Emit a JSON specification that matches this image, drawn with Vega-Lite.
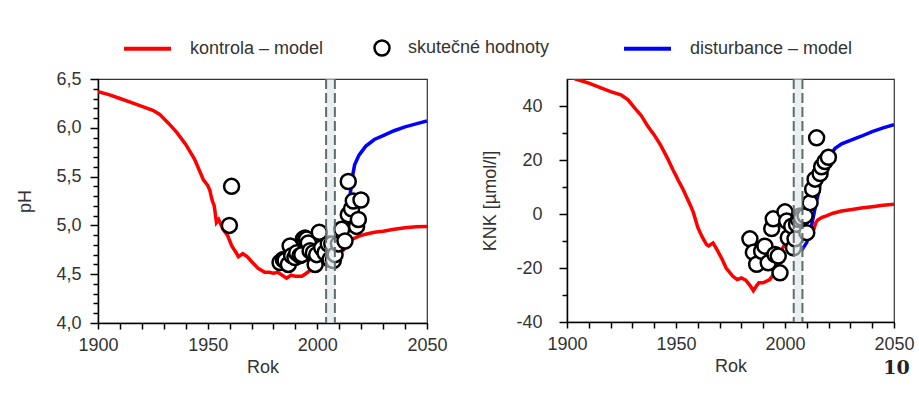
{
  "$schema": "https://vega.github.io/schema/vega-lite/v6.json",
  "background": "white",
  "padding": {"left": 16, "top": 22, "right": 5, "bottom": 5},
  "title": {"text": "10", "orient": "bottom", "anchor": "end", "font": "DejaVu Serif", "fontWeight": "bold", "fontSize": 19, "color": "#222", "offset": -18, "dx": -5},
  "datasets": {
    "ph_model": [
      {"year": 1900, "value": 6.37, "s": "kontrola – model"},
      {"year": 1905, "value": 6.34, "s": "kontrola – model"},
      {"year": 1910, "value": 6.30, "s": "kontrola – model"},
      {"year": 1915, "value": 6.26, "s": "kontrola – model"},
      {"year": 1920, "value": 6.22, "s": "kontrola – model"},
      {"year": 1925, "value": 6.18, "s": "kontrola – model"},
      {"year": 1928, "value": 6.14, "s": "kontrola – model"},
      {"year": 1932, "value": 6.05, "s": "kontrola – model"},
      {"year": 1936, "value": 5.95, "s": "kontrola – model"},
      {"year": 1940, "value": 5.83, "s": "kontrola – model"},
      {"year": 1944, "value": 5.68, "s": "kontrola – model"},
      {"year": 1948, "value": 5.47, "s": "kontrola – model"},
      {"year": 1950, "value": 5.41, "s": "kontrola – model"},
      {"year": 1951, "value": 5.36, "s": "kontrola – model"},
      {"year": 1952, "value": 5.26, "s": "kontrola – model"},
      {"year": 1953, "value": 5.20, "s": "kontrola – model"},
      {"year": 1954, "value": 5.03, "s": "kontrola – model"},
      {"year": 1955, "value": 5.06, "s": "kontrola – model"},
      {"year": 1957, "value": 4.96, "s": "kontrola – model"},
      {"year": 1959, "value": 4.90, "s": "kontrola – model"},
      {"year": 1961, "value": 4.79, "s": "kontrola – model"},
      {"year": 1963, "value": 4.72, "s": "kontrola – model"},
      {"year": 1964, "value": 4.68, "s": "kontrola – model"},
      {"year": 1966, "value": 4.71, "s": "kontrola – model"},
      {"year": 1968, "value": 4.68, "s": "kontrola – model"},
      {"year": 1970, "value": 4.63, "s": "kontrola – model"},
      {"year": 1973, "value": 4.56, "s": "kontrola – model"},
      {"year": 1976, "value": 4.52, "s": "kontrola – model"},
      {"year": 1978, "value": 4.52, "s": "kontrola – model"},
      {"year": 1980, "value": 4.51, "s": "kontrola – model"},
      {"year": 1982, "value": 4.52, "s": "kontrola – model"},
      {"year": 1984, "value": 4.49, "s": "kontrola – model"},
      {"year": 1986, "value": 4.46, "s": "kontrola – model"},
      {"year": 1988, "value": 4.49, "s": "kontrola – model"},
      {"year": 1990, "value": 4.48, "s": "kontrola – model"},
      {"year": 1993, "value": 4.48, "s": "kontrola – model"},
      {"year": 1995, "value": 4.51, "s": "kontrola – model"},
      {"year": 1998, "value": 4.56, "s": "kontrola – model"},
      {"year": 2000, "value": 4.58, "s": "kontrola – model"},
      {"year": 2003, "value": 4.61, "s": "kontrola – model"},
      {"year": 2006, "value": 4.64, "s": "kontrola – model"},
      {"year": 2009, "value": 4.69, "s": "kontrola – model"},
      {"year": 2012, "value": 4.75, "s": "kontrola – model"},
      {"year": 2014, "value": 4.80, "s": "kontrola – model"},
      {"year": 2016, "value": 4.86, "s": "kontrola – model"},
      {"year": 2019, "value": 4.89, "s": "kontrola – model"},
      {"year": 2022, "value": 4.91, "s": "kontrola – model"},
      {"year": 2026, "value": 4.93, "s": "kontrola – model"},
      {"year": 2030, "value": 4.94, "s": "kontrola – model"},
      {"year": 2035, "value": 4.96, "s": "kontrola – model"},
      {"year": 2040, "value": 4.975, "s": "kontrola – model"},
      {"year": 2045, "value": 4.985, "s": "kontrola – model"},
      {"year": 2050, "value": 4.99, "s": "kontrola – model"},
      {"year": 2004, "value": 4.62, "s": "disturbance – model"},
      {"year": 2008, "value": 4.66, "s": "disturbance – model"},
      {"year": 2011, "value": 4.74, "s": "disturbance – model"},
      {"year": 2013, "value": 4.85, "s": "disturbance – model"},
      {"year": 2014, "value": 5.00, "s": "disturbance – model"},
      {"year": 2015, "value": 5.32, "s": "disturbance – model"},
      {"year": 2016, "value": 5.50, "s": "disturbance – model"},
      {"year": 2017, "value": 5.62, "s": "disturbance – model"},
      {"year": 2019, "value": 5.72, "s": "disturbance – model"},
      {"year": 2022, "value": 5.81, "s": "disturbance – model"},
      {"year": 2026, "value": 5.88, "s": "disturbance – model"},
      {"year": 2030, "value": 5.92, "s": "disturbance – model"},
      {"year": 2035, "value": 5.97, "s": "disturbance – model"},
      {"year": 2040, "value": 6.01, "s": "disturbance – model"},
      {"year": 2045, "value": 6.04, "s": "disturbance – model"},
      {"year": 2050, "value": 6.07, "s": "disturbance – model"}
    ],
    "ph_obs": [
      {"year": 1959.9, "value": 5.00, "s": "skutečné hodnoty"},
      {"year": 1960.9, "value": 5.40, "s": "skutečné hodnoty"},
      {"year": 1983.0, "value": 4.62, "s": "skutečné hodnoty"},
      {"year": 1984.5, "value": 4.65, "s": "skutečné hodnoty"},
      {"year": 1985.3, "value": 4.64, "s": "skutečné hodnoty"},
      {"year": 1986.8, "value": 4.60, "s": "skutečné hodnoty"},
      {"year": 1987.6, "value": 4.79, "s": "skutečné hodnoty"},
      {"year": 1988.3, "value": 4.69, "s": "skutečné hodnoty"},
      {"year": 1989.8, "value": 4.67, "s": "skutečné hodnoty"},
      {"year": 1990.6, "value": 4.72, "s": "skutečné hodnoty"},
      {"year": 1992.1, "value": 4.69, "s": "skutečné hodnoty"},
      {"year": 1992.9, "value": 4.70, "s": "skutečné hodnoty"},
      {"year": 1993.6, "value": 4.86, "s": "skutečné hodnoty"},
      {"year": 1994.4, "value": 4.87, "s": "skutečné hodnoty"},
      {"year": 1995.1, "value": 4.86, "s": "skutečné hodnoty"},
      {"year": 1995.9, "value": 4.82, "s": "skutečné hodnoty"},
      {"year": 1996.7, "value": 4.74, "s": "skutečné hodnoty"},
      {"year": 1998.2, "value": 4.72, "s": "skutečné hodnoty"},
      {"year": 1999.0, "value": 4.60, "s": "skutečné hodnoty"},
      {"year": 1999.7, "value": 4.70, "s": "skutečné hodnoty"},
      {"year": 2000.9, "value": 4.93, "s": "skutečné hodnoty"},
      {"year": 2002.0, "value": 4.77, "s": "skutečné hodnoty"},
      {"year": 2003.5, "value": 4.72, "s": "skutečné hodnoty"},
      {"year": 2005.0, "value": 4.81, "s": "skutečné hodnoty"},
      {"year": 2005.8, "value": 4.65, "s": "skutečné hodnoty"},
      {"year": 2006.6, "value": 4.81, "s": "skutečné hodnoty"},
      {"year": 2007.3, "value": 4.64, "s": "skutečné hodnoty"},
      {"year": 2008.1, "value": 4.70, "s": "skutečné hodnoty"},
      {"year": 2009.6, "value": 4.81, "s": "skutečné hodnoty"},
      {"year": 2011.1, "value": 4.96, "s": "skutečné hodnoty"},
      {"year": 2012.6, "value": 4.84, "s": "skutečné hodnoty"},
      {"year": 2014.1, "value": 5.11, "s": "skutečné hodnoty"},
      {"year": 2014.1, "value": 5.45, "s": "skutečné hodnoty"},
      {"year": 2015.6, "value": 5.17, "s": "skutečné hodnoty"},
      {"year": 2016.4, "value": 5.25, "s": "skutečné hodnoty"},
      {"year": 2017.9, "value": 4.99, "s": "skutečné hodnoty"},
      {"year": 2018.7, "value": 5.06, "s": "skutečné hodnoty"},
      {"year": 2019.9, "value": 5.26, "s": "skutečné hodnoty"}
    ],
    "knk_model": [
      {"year": 1900, "value": 51.5, "s": "kontrola – model"},
      {"year": 1904, "value": 50.0, "s": "kontrola – model"},
      {"year": 1910, "value": 48.5, "s": "kontrola – model"},
      {"year": 1915, "value": 46.9, "s": "kontrola – model"},
      {"year": 1920, "value": 45.3, "s": "kontrola – model"},
      {"year": 1925, "value": 44.0, "s": "kontrola – model"},
      {"year": 1928, "value": 42.3, "s": "kontrola – model"},
      {"year": 1931, "value": 39.3, "s": "kontrola – model"},
      {"year": 1934, "value": 36.5, "s": "kontrola – model"},
      {"year": 1937, "value": 32.6, "s": "kontrola – model"},
      {"year": 1940, "value": 29.3, "s": "kontrola – model"},
      {"year": 1943, "value": 25.4, "s": "kontrola – model"},
      {"year": 1946, "value": 20.8, "s": "kontrola – model"},
      {"year": 1948.8, "value": 16.0, "s": "kontrola – model"},
      {"year": 1950, "value": 14.2, "s": "kontrola – model"},
      {"year": 1951, "value": 12.5, "s": "kontrola – model"},
      {"year": 1953, "value": 9.5, "s": "kontrola – model"},
      {"year": 1955, "value": 6.0, "s": "kontrola – model"},
      {"year": 1957, "value": 2.5, "s": "kontrola – model"},
      {"year": 1958, "value": 0.5, "s": "kontrola – model"},
      {"year": 1960, "value": -5.0, "s": "kontrola – model"},
      {"year": 1962, "value": -8.5, "s": "kontrola – model"},
      {"year": 1964, "value": -11.3, "s": "kontrola – model"},
      {"year": 1965, "value": -11.8, "s": "kontrola – model"},
      {"year": 1967, "value": -10.7, "s": "kontrola – model"},
      {"year": 1969, "value": -13.5, "s": "kontrola – model"},
      {"year": 1971, "value": -16.5, "s": "kontrola – model"},
      {"year": 1973, "value": -20.0, "s": "kontrola – model"},
      {"year": 1976, "value": -23.0, "s": "kontrola – model"},
      {"year": 1978, "value": -24.3, "s": "kontrola – model"},
      {"year": 1980, "value": -23.7, "s": "kontrola – model"},
      {"year": 1982, "value": -24.5, "s": "kontrola – model"},
      {"year": 1984, "value": -26.5, "s": "kontrola – model"},
      {"year": 1985.5, "value": -28.4, "s": "kontrola – model"},
      {"year": 1987, "value": -26.5, "s": "kontrola – model"},
      {"year": 1988, "value": -25.5, "s": "kontrola – model"},
      {"year": 1990, "value": -25.5, "s": "kontrola – model"},
      {"year": 1993, "value": -24.3, "s": "kontrola – model"},
      {"year": 1995, "value": -22.0, "s": "kontrola – model"},
      {"year": 1997, "value": -18.0, "s": "kontrola – model"},
      {"year": 1999, "value": -12.5, "s": "kontrola – model"},
      {"year": 2001, "value": -10.0, "s": "kontrola – model"},
      {"year": 2004, "value": -9.0, "s": "kontrola – model"},
      {"year": 2008, "value": -8.5, "s": "kontrola – model"},
      {"year": 2011, "value": -7.5, "s": "kontrola – model"},
      {"year": 2013, "value": -6.3, "s": "kontrola – model"},
      {"year": 2014, "value": -3.5, "s": "kontrola – model"},
      {"year": 2015, "value": -2.2, "s": "kontrola – model"},
      {"year": 2017, "value": -1.2, "s": "kontrola – model"},
      {"year": 2019, "value": -0.7, "s": "kontrola – model"},
      {"year": 2022, "value": 0.3, "s": "kontrola – model"},
      {"year": 2026, "value": 1.1, "s": "kontrola – model"},
      {"year": 2030, "value": 1.6, "s": "kontrola – model"},
      {"year": 2035, "value": 2.2, "s": "kontrola – model"},
      {"year": 2040, "value": 2.7, "s": "kontrola – model"},
      {"year": 2045, "value": 3.2, "s": "kontrola – model"},
      {"year": 2050, "value": 3.6, "s": "kontrola – model"},
      {"year": 2004, "value": -9.0, "s": "disturbance – model"},
      {"year": 2006, "value": -11.0, "s": "disturbance – model"},
      {"year": 2008, "value": -13.0, "s": "disturbance – model"},
      {"year": 2010, "value": -10.5, "s": "disturbance – model"},
      {"year": 2012, "value": -5.0, "s": "disturbance – model"},
      {"year": 2013, "value": -1.0, "s": "disturbance – model"},
      {"year": 2014, "value": 3.0, "s": "disturbance – model"},
      {"year": 2015, "value": 6.5, "s": "disturbance – model"},
      {"year": 2016, "value": 10.5, "s": "disturbance – model"},
      {"year": 2017, "value": 14.5, "s": "disturbance – model"},
      {"year": 2018, "value": 18.0, "s": "disturbance – model"},
      {"year": 2020, "value": 21.0, "s": "disturbance – model"},
      {"year": 2023, "value": 24.3, "s": "disturbance – model"},
      {"year": 2026, "value": 26.0, "s": "disturbance – model"},
      {"year": 2030, "value": 27.3, "s": "disturbance – model"},
      {"year": 2035, "value": 28.8, "s": "disturbance – model"},
      {"year": 2040, "value": 30.5, "s": "disturbance – model"},
      {"year": 2045, "value": 31.9, "s": "disturbance – model"},
      {"year": 2050, "value": 33.1, "s": "disturbance – model"}
    ],
    "knk_obs": [
      {"year": 1983.9, "value": -9.2},
      {"year": 1985.5, "value": -14.2},
      {"year": 1987.0, "value": -18.6},
      {"year": 1989.3, "value": -13.8},
      {"year": 1990.8, "value": -11.9},
      {"year": 1992.3, "value": -18.1},
      {"year": 1993.9, "value": -5.4},
      {"year": 1994.6, "value": -1.8},
      {"year": 1995.4, "value": -15.0},
      {"year": 1996.9, "value": -15.6},
      {"year": 1997.7, "value": -21.8},
      {"year": 2000.0, "value": 0.8},
      {"year": 2000.8, "value": -2.6},
      {"year": 2001.5, "value": -8.8},
      {"year": 2003.1, "value": -4.5},
      {"year": 2003.9, "value": -12.5},
      {"year": 2004.6, "value": -9.2},
      {"year": 2005.3, "value": -3.8},
      {"year": 2006.2, "value": -2.0},
      {"year": 2006.9, "value": -0.7},
      {"year": 2007.6, "value": -1.5},
      {"year": 2009.2, "value": -0.7},
      {"year": 2010.0, "value": -6.9},
      {"year": 2011.5, "value": 4.2},
      {"year": 2012.7, "value": 9.2},
      {"year": 2013.8, "value": 12.9},
      {"year": 2014.5, "value": 28.2},
      {"year": 2016.1, "value": 15.0},
      {"year": 2016.8, "value": 17.5},
      {"year": 2018.3, "value": 19.4},
      {"year": 2019.9, "value": 21.0}
    ],
    "band": [{"start": 2004, "end": 2008}],
    "bandlines": [{"year": 2004}, {"year": 2008}]
  },
  "resolve": {
    "scale": {"color": "independent", "fill": "independent"},
    "legend": {"color": "independent", "fill": "independent"}
  },
  "bounds": "flush",
  "spacing": 140,
  "hconcat": [
    {
      "width": 329,
      "height": 244,
      "resolve": {"axis": {"x": "independent", "y": "independent"}},
      "layer": [
        {
          "data": {"name": "ph_model"},
          "transform": [{"filter": "datum.s === 'disturbance – model'"}],
          "mark": {"type": "line", "strokeWidth": 3.5, "clip": true},
          "encoding": {
            "x": {"field": "year", "type": "quantitative", "scale": {"domain": [1900, 2050], "nice": false}, "axis": {"orient": "bottom", "title": "Rok", "values": [1900, 1950, 2000, 2050], "format": "d", "tickSize": 6}},
            "y": {"field": "value", "type": "quantitative", "scale": {"domain": [4, 6.5], "nice": false, "zero": false}, "axis": {"orient": "left", "title": "pH", "values": [4.0, 4.5, 5.0, 5.5, 6.0, 6.5], "labelExpr": "replace(format(datum.value, '.1f'), '.', ',')", "tickSize": 8, "labelPadding": 9, "titlePadding": 21}},
            "color": {"field": "s", "type": "nominal", "scale": {"domain": ["kontrola – model", "disturbance – model"], "range": ["#ff0000", "#0000ff"]},
              "legend": {"title": null, "orient": "none", "legendX": 24, "legendY": -56, "direction": "horizontal", "symbolType": "stroke", "symbolSize": 2209, "symbolStrokeWidth": 4, "labelFontSize": 18, "labelFont": "Liberation Sans", "labelColor": "#333", "labelOffset": 17, "columnPadding": 292, "padding": 0, "labelLimit": 300}}
          }
        },
        {
          "data": {"name": "ph_model"},
          "transform": [{"filter": "datum.s === 'kontrola – model'"}],
          "mark": {"type": "line", "strokeWidth": 3.5, "clip": true},
          "encoding": {
            "x": {"field": "year", "type": "quantitative", "axis": {"orient": "bottom", "title": null, "labels": false, "domain": false, "tickSize": 6, "values": [1910,1920,1930,1940,1960,1970,1980,1990,2010,2020,2030,2040]}},
            "y": {"field": "value", "type": "quantitative", "axis": {"orient": "left", "title": null, "labels": false, "domain": false, "tickSize": 5, "values": [4.1,4.2,4.3,4.4,4.6,4.7,4.8,4.9,5.1,5.2,5.3,5.4,5.6,5.7,5.8,5.9,6.1,6.2,6.3,6.4]}},
            "color": {"field": "s", "type": "nominal"}
          }
        },
        {
          "data": {"name": "ph_obs"},
          "mark": {"type": "point", "shape": "circle", "filled": true, "stroke": "black", "strokeWidth": 2.5, "size": 225, "opacity": 1},
          "encoding": {
            "x": {"field": "year", "type": "quantitative", "axis": null},
            "y": {"field": "value", "type": "quantitative", "axis": null},
            "fill": {"field": "s", "type": "nominal", "scale": {"domain": ["skutečné hodnoty"], "range": ["white"]},
              "legend": {"title": null, "orient": "none", "legendX": 275, "legendY": -40, "symbolType": "circle", "symbolSize": 225, "symbolStrokeColor": "black", "symbolStrokeWidth": 2.5, "symbolOpacity": 1, "labelFontSize": 18, "labelFont": "Liberation Sans", "labelColor": "#333", "labelOffset": 17, "padding": 0, "labelLimit": 300}}
          }
        },
        {
          "data": {"name": "band"},
          "mark": {"type": "rect", "fill": "#dfe5e5", "opacity": 0.6},
          "encoding": {
            "x": {"field": "start", "type": "quantitative", "axis": null},
            "x2": {"field": "end"}
          }
        },
        {
          "data": {"name": "bandlines"},
          "mark": {"type": "rule", "stroke": "#5c6f6f", "strokeWidth": 2, "strokeDash": [10, 4]},
          "encoding": {
            "x": {"field": "year", "type": "quantitative", "axis": null}
          }
        }
      ]
    },
    {
      "width": 327,
      "height": 243,
      "resolve": {"axis": {"x": "independent", "y": "independent"}},
      "layer": [
        {
          "data": {"name": "knk_model"},
          "transform": [{"filter": "datum.s === 'disturbance – model'"}],
          "mark": {"type": "line", "strokeWidth": 3.5, "clip": true, "stroke": "#0000ff"},
          "encoding": {
            "x": {"field": "year", "type": "quantitative", "scale": {"domain": [1900, 2050], "nice": false}, "axis": {"orient": "bottom", "title": "Rok", "values": [1900, 1950, 2000, 2050], "format": "d", "tickSize": 6}},
            "y": {"field": "value", "type": "quantitative", "scale": {"domain": [-40, 50], "nice": false, "zero": false}, "axis": {"orient": "left", "title": "KNK [µmol/l]", "values": [-40, -20, 0, 20, 40], "labelExpr": "replace(datum.label, '−', '-')", "tickSize": 8, "labelPadding": 17, "titlePadding": 16}}
          }
        },
        {
          "data": {"name": "knk_model"},
          "transform": [{"filter": "datum.s === 'kontrola – model'"}],
          "mark": {"type": "line", "strokeWidth": 3.5, "clip": true, "stroke": "#ff0000"},
          "encoding": {
            "x": {"field": "year", "type": "quantitative", "axis": {"orient": "bottom", "title": null, "labels": false, "domain": false, "tickSize": 6, "values": [1910,1920,1930,1940,1960,1970,1980,1990,2010,2020,2030,2040]}},
            "y": {"field": "value", "type": "quantitative", "axis": {"orient": "left", "title": null, "labels": false, "domain": false, "tickSize": 5, "values": [-30, -10, 10, 30]}}
          }
        },
        {
          "mark": {"type": "rule", "stroke": "black", "strokeWidth": 1.5},
          "encoding": {"y": {"datum": 0, "axis": null}}
        },
        {
          "data": {"name": "knk_obs"},
          "mark": {"type": "point", "filled": true, "fill": "white", "stroke": "black", "strokeWidth": 2.5, "size": 225, "opacity": 1},
          "encoding": {
            "x": {"field": "year", "type": "quantitative", "axis": null},
            "y": {"field": "value", "type": "quantitative", "axis": null}
          }
        },
        {
          "data": {"name": "band"},
          "mark": {"type": "rect", "fill": "#dfe5e5", "opacity": 0.6},
          "encoding": {
            "x": {"field": "start", "type": "quantitative", "axis": null},
            "x2": {"field": "end"}
          }
        },
        {
          "data": {"name": "bandlines"},
          "mark": {"type": "rule", "stroke": "#5c6f6f", "strokeWidth": 2, "strokeDash": [10, 4]},
          "encoding": {
            "x": {"field": "year", "type": "quantitative", "axis": null}
          }
        }
      ]
    }
  ],
  "config": {
    "view": {"stroke": "#333", "strokeWidth": 1.2},
    "axis": {
      "labelFont": "Liberation Sans", "labelFontSize": 18, "labelColor": "#333",
      "titleFont": "Liberation Sans", "titleFontSize": 18, "titleFontWeight": "normal", "titleColor": "#333",
      "domainColor": "black", "domainWidth": 1.5, "tickColor": "black", "tickWidth": 1.5, "grid": false,
      "labelFlush": false
    },
    "axisX": {"labelPadding": 7, "titlePadding": 4},
    "legend": {"labelFont": "Liberation Sans"}
  }
}
